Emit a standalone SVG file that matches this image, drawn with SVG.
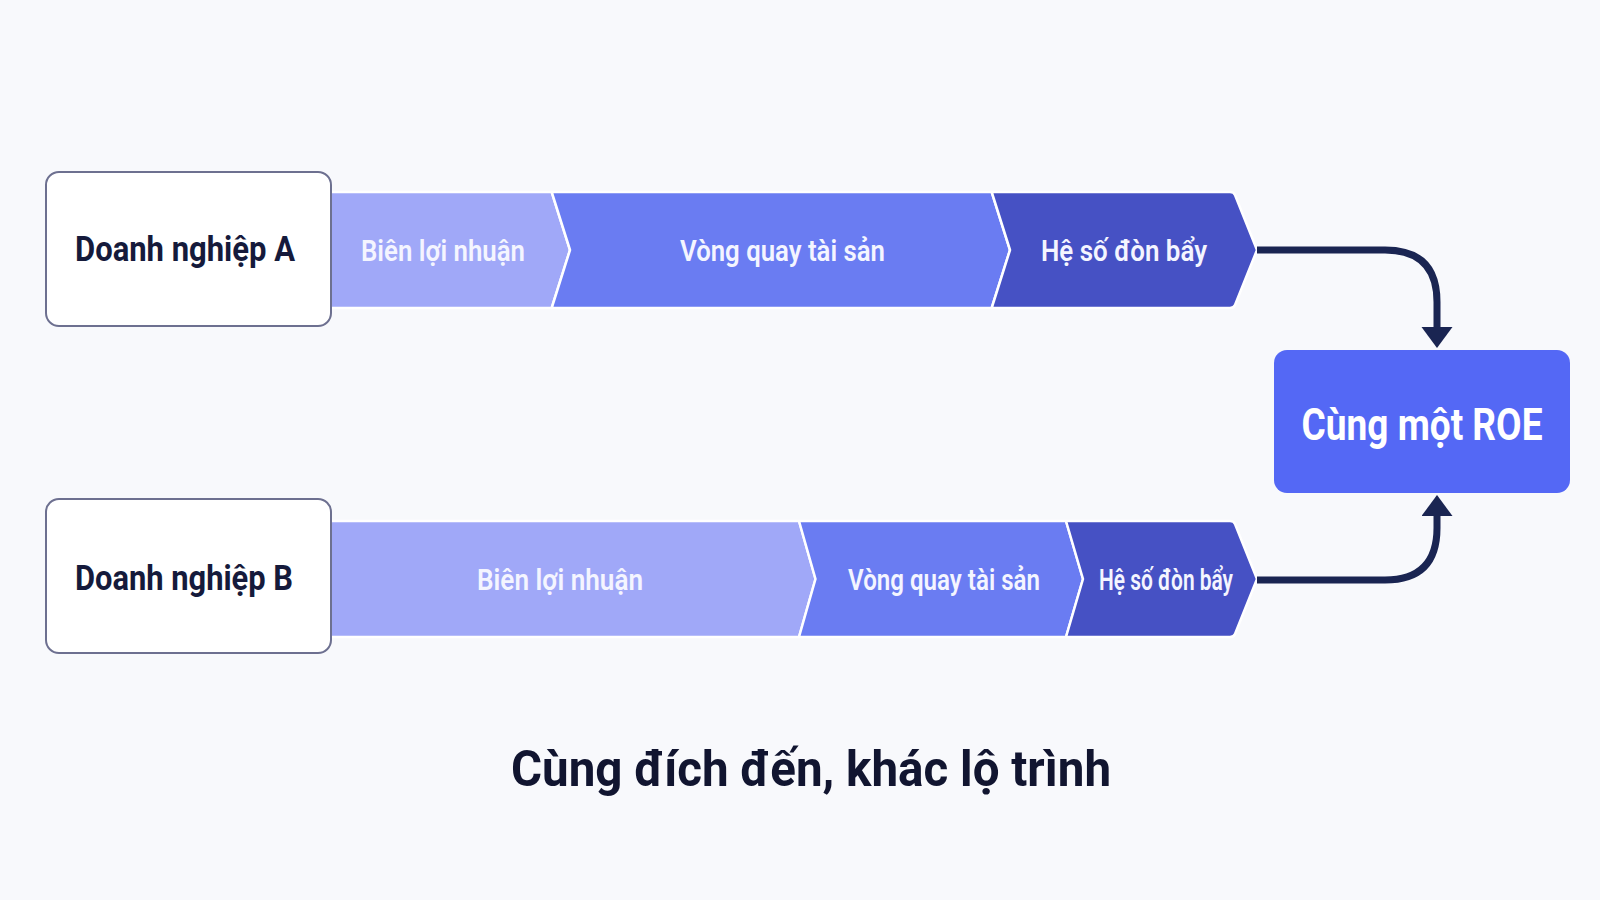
<svg xmlns="http://www.w3.org/2000/svg" width="1600" height="900" viewBox="0 0 1600 900">
  <defs>
    <style>
      .bg { fill: #f8f9fc; }
      .box { fill: #ffffff; stroke: #6d7090; stroke-width: 2; }
      .lbl { font-family: Roboto, "Liberation Sans", sans-serif; font-weight: 700; fill: #151a3b; text-anchor: middle; }
      .seg1 { fill: #a0a8f8; stroke: #ffffff; stroke-width: 2.5; stroke-linejoin: round; }
      .seg2 { fill: #6a7cf2; stroke: #ffffff; stroke-width: 2.5; stroke-linejoin: round; }
      .seg3 { fill: #4651c4; stroke: #ffffff; stroke-width: 2.5; stroke-linejoin: round; }
      .segt { font-family: Roboto, "Liberation Sans", sans-serif; font-weight: 600; font-size: 30px; fill: #f4f5ff; text-anchor: middle; }
      .roe { fill: #5468f5; }
      .roet { font-family: Roboto, "Liberation Sans", sans-serif; font-weight: 700; font-size: 45px; fill: #ffffff; text-anchor: middle; }
      .conn { fill: none; stroke: #1a2552; stroke-width: 7; }
      .title { font-family: Roboto, "Liberation Sans", sans-serif; font-weight: 700; font-size: 50px; fill: #111530; text-anchor: middle; }
    </style>
    <marker id="ah" markerUnits="userSpaceOnUse" markerWidth="22" markerHeight="32" refX="3" refY="15.5" orient="auto">
      <path d="M0,0 L21,15.5 L0,31 Z" fill="#1a2552"/>
    </marker>
  </defs>

  <rect class="bg" x="0" y="0" width="1600" height="900"/>

  <g id="bandA">
    <path class="seg1" d="M325,192 H551.7 L570,250 L551.7,308 H325 Z"/>
    <path class="seg2" d="M551.7,192 H991.7 L1010,250 L991.7,308 H551.7 L570,250 Z"/>
    <path class="seg3" d="M991.7,192 H1230 Q1234,192 1235,195 L1257,250 L1235,305 Q1234,308 1230,308 H991.7 L1010,250 Z"/>
    <text class="segt" x="443" y="261" textLength="164" lengthAdjust="spacingAndGlyphs">Biên lợi nhuận</text>
    <text class="segt" x="782.5" y="261" textLength="205" lengthAdjust="spacingAndGlyphs">Vòng quay tài sản</text>
    <text class="segt" x="1124" y="261" textLength="166" lengthAdjust="spacingAndGlyphs">Hệ số đòn bẩy</text>
  </g>

  <g id="bandB">
    <path class="seg1" d="M325,521 H799 L815.5,579 L799,637 H325 Z"/>
    <path class="seg2" d="M799,521 H1066 L1083,579 L1066,637 H799 L815.5,579 Z"/>
    <path class="seg3" d="M1066,521 H1230 Q1234,521 1235,524 L1257,579 L1235,634 Q1234,637 1230,637 H1066 L1083,579 Z"/>
    <text class="segt" x="560" y="590" textLength="166" lengthAdjust="spacingAndGlyphs">Biên lợi nhuận</text>
    <text class="segt" x="944" y="590" textLength="192" lengthAdjust="spacingAndGlyphs">Vòng quay tài sản</text>
    <text class="segt" x="1166" y="590" textLength="134" lengthAdjust="spacingAndGlyphs">Hệ số đòn bẩy</text>
  </g>

  <g id="nodeA">
    <rect class="box" x="46" y="172" width="285" height="154" rx="13"/>
    <text class="lbl" x="185" y="261" font-size="35" textLength="220" lengthAdjust="spacingAndGlyphs">Doanh nghiệp A</text>
  </g>

  <g id="nodeB">
    <rect class="box" x="46" y="499" width="285" height="154" rx="13"/>
    <text class="lbl" x="184" y="590" font-size="35" textLength="218" lengthAdjust="spacingAndGlyphs">Doanh nghiệp B</text>
  </g>

  <g id="nodeROE">
    <rect class="roe" x="1274" y="350" width="296" height="143" rx="13"/>
    <text class="roet" x="1422" y="440" textLength="241" lengthAdjust="spacingAndGlyphs">Cùng một ROE</text>
  </g>

  <g id="connectors">
    <path class="conn" d="M1257,250 H1385 Q1437,250 1437,302 V330" marker-end="url(#ah)"/>
    <path class="conn" d="M1257,580 H1385 Q1437,580 1437,528 V513" marker-end="url(#ah)"/>
  </g>

  <g id="caption">
    <text class="title" x="811" y="786" textLength="600" lengthAdjust="spacingAndGlyphs">Cùng đích đến, khác lộ trình</text>
  </g>
</svg>
